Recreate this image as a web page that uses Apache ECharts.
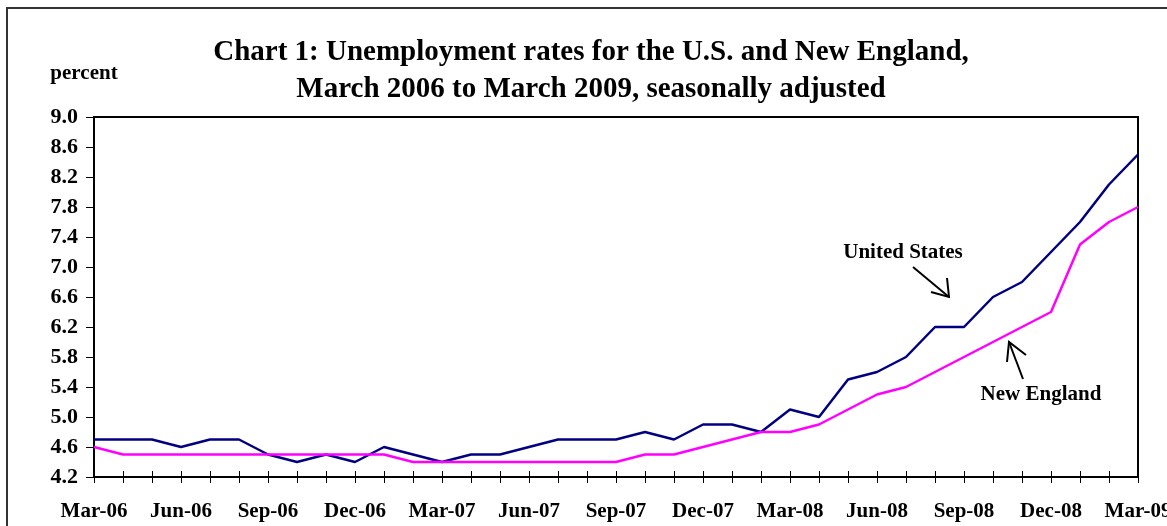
<!DOCTYPE html>
<html>
<head>
<meta charset="utf-8">
<script src="https://cdn.jsdelivr.net/npm/echarts@6/dist/echarts.min.js"></script>
<style>
  html, body { margin: 0; padding: 0; background: #fff; }
  #main { width: 1167px; height: 526px; }
</style>
</head>
<body>
<div id="main"></div>
<script>
// months, Mar-06 .. Mar-09
const months = [
  'Mar-06', 'Apr-06', 'May-06', 'Jun-06', 'Jul-06', 'Aug-06', 'Sep-06', 'Oct-06', 'Nov-06', 'Dec-06', 'Jan-07', 'Feb-07',
  'Mar-07', 'Apr-07', 'May-07', 'Jun-07', 'Jul-07', 'Aug-07', 'Sep-07', 'Oct-07', 'Nov-07', 'Dec-07', 'Jan-08', 'Feb-08',
  'Mar-08', 'Apr-08', 'May-08', 'Jun-08', 'Jul-08', 'Aug-08', 'Sep-08', 'Oct-08', 'Nov-08', 'Dec-08', 'Jan-09', 'Feb-09',
  'Mar-09'
];
const usRate = [
  4.7, 4.7, 4.7, 4.6, 4.7, 4.7, 4.5, 4.4, 4.5, 4.4, 4.6, 4.5,
  4.4, 4.5, 4.5, 4.6, 4.7, 4.7, 4.7, 4.8, 4.7, 4.9, 4.9, 4.8,
  5.1, 5.0, 5.5, 5.6, 5.8, 6.2, 6.2, 6.6, 6.8, 7.2, 7.6, 8.1,
  8.5
];
const neRate = [
  4.6, 4.5, 4.5, 4.5, 4.5, 4.5, 4.5, 4.5, 4.5, 4.5, 4.5, 4.4,
  4.4, 4.4, 4.4, 4.4, 4.4, 4.4, 4.4, 4.5, 4.5, 4.6, 4.7, 4.8,
  4.8, 4.9, 5.1, 5.3, 5.4, 5.6, 5.8, 6.0, 6.2, 6.4, 7.3, 7.6,
  7.8
];
const yTicks = [4.2, 4.6, 5.0, 5.4, 5.8, 6.2, 6.6, 7.0, 7.4, 7.8, 8.2, 8.6, 9.0];

const font = 'Liberation Serif, Times New Roman, serif';
const chart = echarts.init(document.getElementById('main'));

const txt = (text, x, y, size) => ({
  type: 'text', x: x, y: y,
  style: { text: text, font: 'bold ' + size + 'px ' + font, fill: '#000', textAlign: 'center', textVerticalAlign: 'middle' }
});
const ln = (pts) => ({
  type: 'polyline', shape: { points: pts },
  style: { stroke: '#000', lineWidth: 2, fill: null }
});

chart.setOption({
  animation: false,
  backgroundColor: '#fff',
  grid: {
    left: 94, right: 29, top: 117, bottom: 49,
    outerBoundsMode: 'none', containLabel: false,
    show: true, borderColor: '#000', borderWidth: 2
  },
  xAxis: [{
    type: 'category',
    data: months,
    boundaryGap: false,
    axisLine: { lineStyle: { color: '#000', width: 2 } },
    axisTick: { interval: 0, length: 6, lineStyle: { color: '#000', width: 1 } },
    axisLabel: { interval: 2, margin: 24, color: '#000', fontFamily: font, fontWeight: 'bold', fontSize: 21, hideOverlap: false },
    splitLine: { show: false }
  }, {
    // second copy only for the inside half of the ticks
    type: 'category',
    data: months,
    boundaryGap: false,
    position: 'bottom',
    axisLine: { show: false },
    axisTick: { inside: true, interval: 0, length: 6, lineStyle: { color: '#000', width: 1 } },
    axisLabel: { show: false },
    splitLine: { show: false }
  }],
  yAxis: {
    type: 'value',
    min: 4.2,
    max: 9.0,
    axisLine: { show: true, lineStyle: { color: '#000', width: 2 } },
    axisTick: { show: true, length: 8, customValues: yTicks, lineStyle: { color: '#000', width: 1 } },
    axisLabel: {
      customValues: yTicks, margin: 16, color: '#000',
      fontFamily: font, fontWeight: 'bold', fontSize: 22,
      formatter: (v) => v.toFixed(1)
    },
    splitLine: { show: false }
  },
  series: [{
    name: 'United States',
    type: 'line',
    data: usRate,
    symbol: 'none',
    lineStyle: { color: '#000080', width: 2.5 }
  }, {
    name: 'New England',
    type: 'line',
    data: neRate,
    symbol: 'none',
    lineStyle: { color: '#ff00ff', width: 2.5 }
  }],
  graphic: [
    { type: 'rect', shape: { x: 7, y: 8, width: 1200, height: 560 }, style: { stroke: '#333', lineWidth: 2, fill: null } },
    txt('Chart 1: Unemployment rates for the U.S. and New England,', 591, 53, 29),
    txt('March 2006 to March 2009, seasonally adjusted', 591, 90, 29),
    txt('percent', 84, 74, 21),
    txt('United States', 903, 253, 21),
    txt('New England', 1041, 395, 21),
    // annotation arrows
    ln([[913, 267], [949, 297]]),
    ln([[931, 292], [949, 297], [947, 278]]),
    ln([[1023, 379], [1009, 342]]),
    ln([[1007, 362], [1009, 342], [1026, 355]])
  ]
});
</script>
</body>
</html>
